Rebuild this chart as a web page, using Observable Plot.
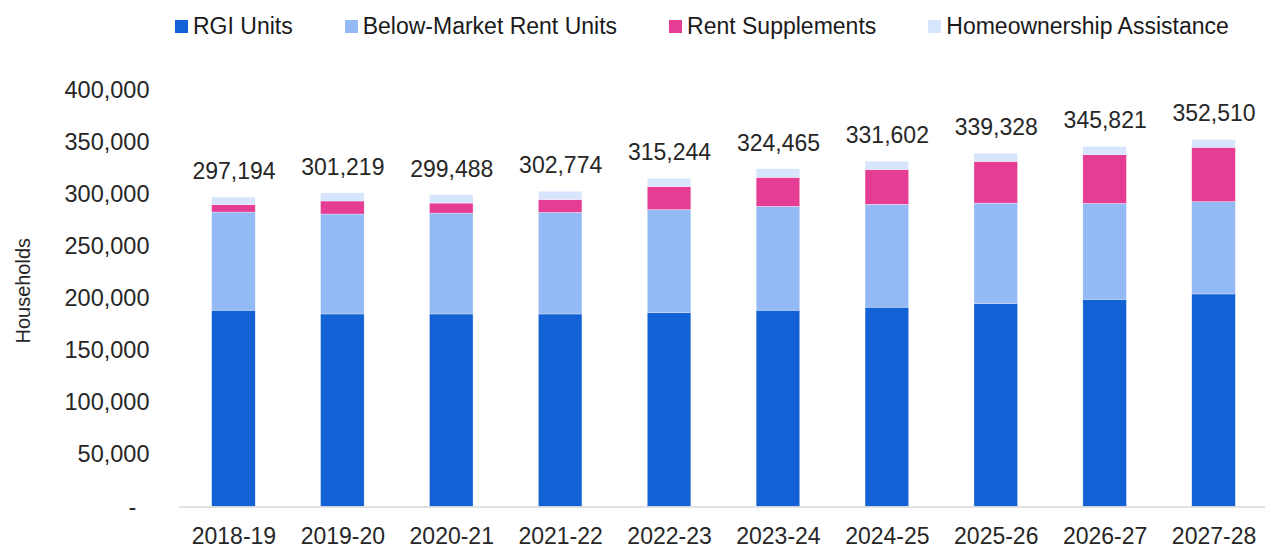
<!DOCTYPE html>
<html>
<head>
<meta charset="utf-8">
<script src="https://cdn.jsdelivr.net/npm/d3@7"></script>
<script src="https://cdn.jsdelivr.net/npm/@observablehq/plot@0.6"></script>
<style>
  html, body { margin: 0; padding: 0; background: #fff; }
  body { font-family: "Liberation Sans", Arial, sans-serif; width: 1265px; overflow: hidden; }
  #legend { height: 50px; display: flex; align-items: center; padding-left: 175px; box-sizing: border-box; padding-top: 2px; white-space: nowrap; }
  .item { display: flex; align-items: center; flex-shrink: 0; margin-right: 52px; font-size: 23px; color: #1a1a1a; white-space: nowrap; }
  .sw { width: 13px; height: 13px; margin-right: 5px; flex-shrink: 0; }
</style>
</head>
<body>
<div id="legend"></div>
<div id="chart"></div>
<script>
const years = ["2018-19","2019-20","2020-21","2021-22","2022-23","2023-24","2024-25","2025-26","2026-27","2027-28"];
const seriesNames = ["RGI Units","Below-Market Rent Units","Rent Supplements","Homeownership Assistance"];
const seriesColors = ["#1261d5","#94baf6","#e53d93","#d6e5fc"];
const rgi = [188500,184900,184900,184900,186300,188500,191400,194900,199000,204100];
const bmr = [94300,96000,96900,97600,98850,99800,98850,96500,92100,88700];
const rentSupp = [7100,12500,9600,12200,22100,27800,33300,40000,46700,52100];
const homeAssist = [7294,7819,8088,8074,7994,8365,8052,7928,8021,7610];
const totals = [297194,301219,299488,302774,315244,324465,331602,339328,345821,352510];
const yTicks = [0,50000,100000,150000,200000,250000,300000,350000,400000];

const seriesValues = [rgi, bmr, rentSupp, homeAssist];
const rows = [];
seriesNames.forEach((s, si) => years.forEach((y, i) => rows.push({year: y, series: s, value: seriesValues[si][i]})));
const totalRows = years.map((y, i) => ({year: y, total: totals[i]}));

const legend = document.getElementById("legend");
seriesNames.forEach((s, i) => {
  const it = document.createElement("div");
  it.className = "item";
  it.innerHTML = `<span class="sw" style="background:${seriesColors[i]}"></span><span>${s}</span>`;
  legend.appendChild(it);
});

const fmt = d3.format(",");
const chart = Plot.plot({
  width: 1265,
  height: 498,
  marginLeft: 179,
  marginRight: 0,
  marginTop: 40,
  marginBottom: 41.5,
  style: {fontFamily: "'Liberation Sans', Arial, sans-serif", color: "#262626", background: "#fff"},
  x: {domain: years, range: [179, 1268], paddingInner: 0.6, paddingOuter: 0.3, round: false, label: null},
  y: {domain: [0, 400000], label: null},
  color: {domain: seriesNames, range: seriesColors},
  marks: [
    Plot.barY(rows, Plot.stackY({x: "year", y: "value", fill: "series", order: seriesNames, stroke: "white", strokeWidth: 0.5, strokeOpacity: 0.6})),
    Plot.ruleY([0], {stroke: "#d9d9d9", strokeWidth: 1.5}),
    Plot.text(totalRows, {x: "year", y: "total", text: d => fmt(d.total), dy: -26, fontSize: 23, fill: "#262626"}),
    Plot.axisX({tickSize: 0, tickPadding: 21, fontSize: 23, label: null}),
    Plot.axisY({ticks: yTicks, tickSize: 0, tickPadding: 30, fontSize: 23.5, label: null,
      tickFormat: d => d === 0 ? "-\u2007" : fmt(d)}),
    Plot.text(["Households"], {frameAnchor: "left", textAnchor: "middle", rotate: -90, dx: -156, dy: -8, fontSize: 20, fill: "#262626"})
  ]
});
document.getElementById("chart").appendChild(chart);
</script>
</body>
</html>
